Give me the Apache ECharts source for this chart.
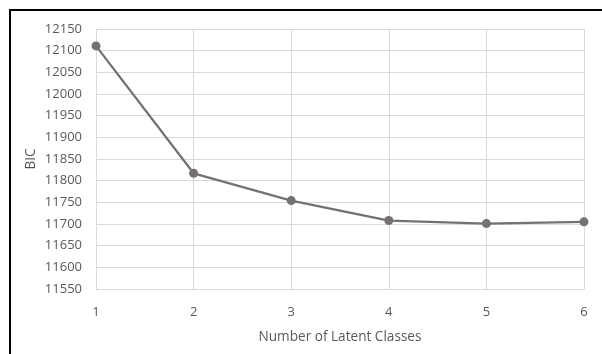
<!DOCTYPE html>
<html><head><meta charset="utf-8">
<script src="https://cdn.jsdelivr.net/npm/echarts@6/dist/echarts.min.js"></script>
<style>html,body{margin:0;padding:0;background:#fff}#c{width:602px;height:354px}</style>
</head><body><div id="c"></div>
<script>
const categories = ['1','2','3','4','5','6'];
const bicValues = [12111, 11817, 11754, 11708, 11701, 11705];
const yMin = 11550, yMax = 12150, yStep = 50;

const chart = echarts.init(document.getElementById('c'), null, {renderer:'canvas'});
const font = '"Open Sans", sans-serif';
chart.setOption({
  animation:false,
  backgroundColor:'#fff',
  graphic:[{type:'polyline', shape:{points:[[10,354],[10,10],[602,10]]}, style:{stroke:'#000', lineWidth:2, fill:null}}],
  grid:{left:96,right:18,top:29,bottom:65},
  xAxis:{type:'category', data:categories, boundaryGap:false,
    name:'Number of Latent Classes', nameLocation:'middle', nameGap:41,
    nameTextStyle:{color:'#595959', fontSize:13.6, fontFamily:font},
    axisLine:{lineStyle:{color:'#d9d9d9'}}, axisTick:{show:false},
    axisLabel:{color:'#595959', fontSize:13, fontFamily:font, margin:17},
    splitLine:{show:true, lineStyle:{color:'#d9d9d9', width:1}}},
  yAxis:{type:'value', min:yMin, max:yMax, interval:yStep,
    name:'BIC', nameLocation:'middle', nameGap:58, nameMoveOverlap:false,
    nameTextStyle:{color:'#595959', fontSize:13.6, fontFamily:font},
    axisLine:{show:false}, axisTick:{show:false},
    axisLabel:{color:'#595959', fontSize:13, fontFamily:font, margin:14, formatter:v=>String(v)},
    splitLine:{lineStyle:{color:'#d9d9d9', width:1}}},
  series:[{type:'line', data:bicValues, symbol:'circle', symbolSize:9,
    lineStyle:{color:'#767171', width:2.25}, itemStyle:{color:'#767171'}}]
});
</script></body></html>
